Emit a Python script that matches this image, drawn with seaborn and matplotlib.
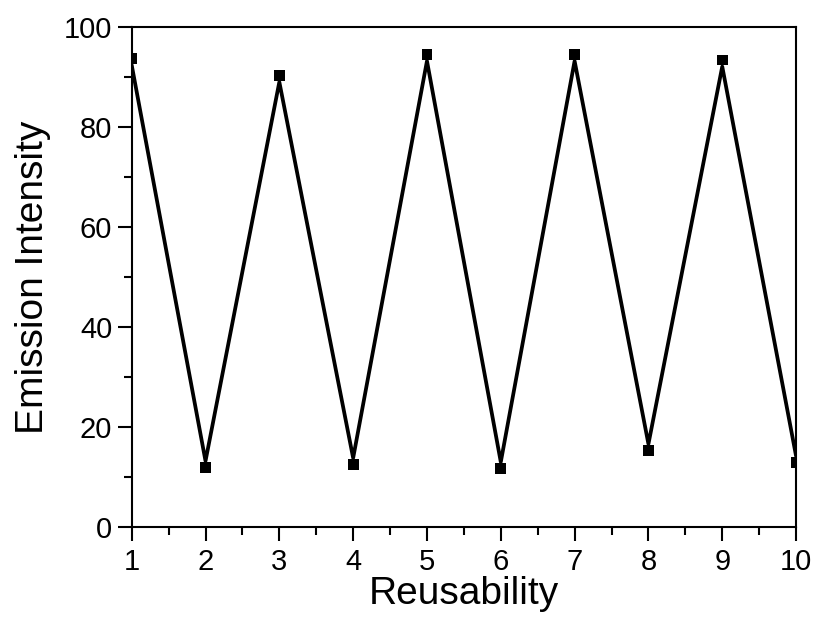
import matplotlib
matplotlib.use("Agg")
from matplotlib import pyplot as plt
import numpy as np
import pandas as pd
import seaborn as sns

# reusability cycles and measured emission intensity
cycles = [1, 2, 3, 4, 5, 6, 7, 8, 9, 10]
intensity = [93.7, 11.9, 90.3, 12.5, 94.5, 11.7, 94.5, 15.3, 93.4, 12.9]

df = pd.DataFrame({'Reusability': cycles, 'Emission Intensity': intensity})

sns.set_style('ticks')
plt.rcParams['font.family'] = ['Liberation Sans', 'DejaVu Sans']

fig = plt.figure(figsize=(8.19, 6.17), dpi=100)
ax = fig.add_axes([0.1608, 0.1459, 0.8112, 0.8103])

ax.set_xlim(1, 10)
ax.set_ylim(0, 100)

#line is pulled back from each symbol a few pixels (gap to symbol)
gap = 6.5
pix = ax.transData.transform(np.column_stack([df['Reusability'], df['Emission Intensity']]))
yv = df['Emission Intensity'].to_numpy()
shift = []
for i in range(len(yv)):
    nb = [yv[j] for j in (i - 1, i + 1) if 0 <= j < len(yv)]
    shift.append(np.sign(np.mean(nb) - yv[i]))
pix_line = pix.copy()
pix_line[:, 1] += np.array(shift) * gap
line_pts = ax.transData.inverted().transform(pix_line)
line_df = pd.DataFrame({'x': line_pts[:, 0], 'y': line_pts[:, 1]})

sns.lineplot(data=line_df, x='x', y='y', ax=ax, color='black', linewidth=2.7,
             sort=False, estimator=None)
sns.scatterplot(data=df, x='Reusability', y='Emission Intensity', ax=ax,
                marker='s', s=62, color='black', edgecolor='none', zorder=3)

ax.set_xlim(1, 10)
ax.set_ylim(0, 100)
ax.set_xticks(range(1, 11))
ax.set_xticks(np.arange(1.5, 10, 1), minor=True)
ax.set_yticks(range(0, 101, 20))
ax.set_yticks(range(10, 100, 20), minor=True)

ax.tick_params(axis='both', which='major', direction='out', length=10, width=1.5,
               labelsize=21, colors='black', labelcolor='black')
ax.tick_params(axis='x', which='major', pad=5)
ax.tick_params(axis='y', which='major', pad=4)
ax.tick_params(axis='both', which='minor', direction='out', length=5.5, width=1.5,
               colors='black')
for sp in ax.spines.values():
    sp.set_linewidth(1.5)
    sp.set_color('black')

ax.set_xlabel('Reusability', fontsize=28, labelpad=0, color='black')
ax.set_ylabel('Emission Intensity', fontsize=28, labelpad=9, color='black')

fig.savefig('out.png', dpi=100)
